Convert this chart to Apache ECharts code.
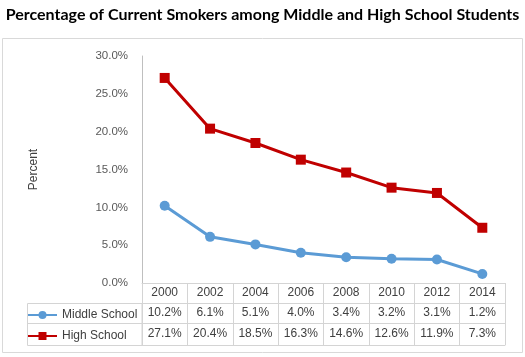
<!DOCTYPE html>
<html><head><meta charset="utf-8">
<script src="https://cdn.jsdelivr.net/npm/echarts@6/dist/echarts.min.js"></script>
<style>html,body{margin:0;padding:0;background:#fff}#c{width:525px;height:357px}</style>
</head><body><div id="c"></div>
<script>
const years = ['2000','2002','2004','2006','2008','2010','2012','2014'];
const middleSchool = [10.2, 6.1, 5.1, 4.0, 3.4, 3.2, 3.1, 1.2];
const highSchool = [27.1, 20.4, 18.5, 16.3, 14.6, 12.6, 11.9, 7.3];
const yTicks = [0, 5, 10, 15, 20, 25, 30];

const font = 'Liberation Sans';
const txt = '#404040';
const gridC = '#D4D4D4';
const chart = echarts.init(document.getElementById('c'));
const fmt = v => v.toFixed(1) + '%';
const tick = len => ({show: true, interval: 0, length: len, lineStyle: {color: gridC, width: 1}});
chart.setOption({
  animation: false,
  title: {
    text: 'Percentage of Current Smokers among Middle and High School Students',
    left: 'center', top: 2,
    textStyle: {fontFamily: 'Lato', fontWeight: 'bold', fontSize: 16, color: '#000'}
  },
  legend: {
    orient: 'vertical', left: 27, top: 309, padding: 0, itemWidth: 29, itemHeight: 10, itemGap: 9,
    textStyle: {fontFamily: font, fontSize: 12, color: txt, lineHeight: 12},
    data: ['Middle School', 'High School']
  },
  grid: {left: 142, right: 20, top: 56, bottom: 74},
  xAxis: [
    {type: 'category', data: years, position: 'bottom', offset: 0,
     axisLine: {show: true, lineStyle: {color: gridC}}, axisTick: tick(20),
     axisLabel: {margin: 10, interval: 0, verticalAlign: 'middle', fontFamily: font, fontSize: 12, color: txt}},
    {type: 'category', data: years, position: 'bottom', offset: 20,
     axisLine: {show: true, lineStyle: {color: gridC}}, axisTick: tick(20),
     axisLabel: {margin: 10, interval: 0, verticalAlign: 'middle', fontFamily: font, fontSize: 12, color: txt,
       formatter: (v, i) => fmt(middleSchool[i])}},
    {type: 'category', data: years, position: 'bottom', offset: 40,
     axisLine: {show: true, lineStyle: {color: gridC}}, axisTick: tick(22),
     axisLabel: {margin: 11, interval: 0, verticalAlign: 'middle', fontFamily: font, fontSize: 12, color: txt,
       formatter: (v, i) => fmt(highSchool[i])}},
    {type: 'category', data: years, position: 'bottom', offset: 62,
     axisLine: {show: true, lineStyle: {color: gridC}}, axisTick: {show: false}, axisLabel: {show: false}}
  ],
  yAxis: {
    type: 'value', min: yTicks[0], max: yTicks[yTicks.length - 1], interval: 5,
    name: 'Percent', nameLocation: 'middle', nameGap: 102, nameRotate: 90,
    nameTextStyle: {fontFamily: font, fontSize: 12, color: txt},
    axisLine: {show: true, lineStyle: {color: '#BFBFBF'}}, axisTick: {show: false},
    splitLine: {show: false},
    axisLabel: {margin: 14, fontFamily: font, fontSize: 11.5, color: '#595959', formatter: v => fmt(v)}
  },
  graphic: [
    {type: 'rect', shape: {x: 2.5, y: 38.5, width: 520, height: 314}, style: {fill: 'none', stroke: '#D9D9D9', lineWidth: 1}, silent: true, z: -1},
    {type: 'rect', shape: {x: 27.5, y: 303.5, width: 114.5, height: 42}, style: {fill: 'none', stroke: gridC, lineWidth: 1}, silent: true},
    {type: 'line', shape: {x1: 27.5, y1: 323.5, x2: 142, y2: 323.5}, style: {stroke: gridC, lineWidth: 1}, silent: true}
  ],
  series: [
    {name: 'Middle School', type: 'line', data: middleSchool, symbol: 'circle', symbolSize: 10,
     lineStyle: {width: 3, color: '#5B9BD5'}, itemStyle: {color: '#5B9BD5'}},
    {name: 'High School', type: 'line', data: highSchool, symbol: 'rect', symbolSize: 10,
     lineStyle: {width: 3, color: '#C00000'}, itemStyle: {color: '#C00000'}}
  ]
});
</script></body></html>
